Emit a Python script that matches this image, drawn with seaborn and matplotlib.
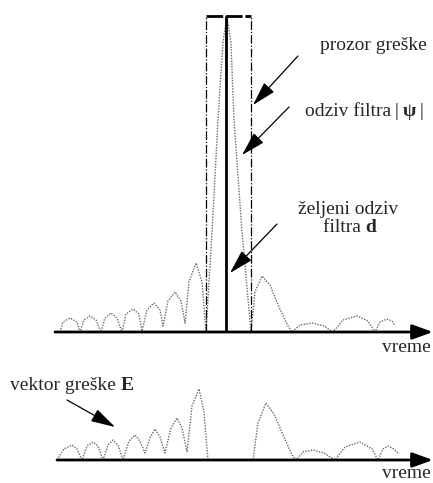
import matplotlib
matplotlib.use("Agg")
import matplotlib.pyplot as plt
import seaborn as sns
import numpy as np

sns.set_theme(style="white")
plt.rcParams['font.family'] = ['Liberation Serif', 'DejaVu Serif']

# ---------------- data ----------------
# filter response |psi| (upper panel): time, amplitude
psi_t = [60, 63, 70, 77, 80, 84, 90, 96, 101, 105, 111, 117, 122, 126, 133, 139, 142,
         147, 154, 160, 163, 168, 175, 181, 185, 189, 196, 202, 206,
         212, 218, 223, 227, 231, 234, 242, 251,
         255, 262, 270, 279, 288, 292, 300, 312, 324, 333, 343, 357, 368, 375,
         380, 387, 392, 395]
psi_a = [0, 10, 14, 10, 0, 12, 16, 12, 0, 14, 19, 14, 0, 18, 23, 18, 1,
         22, 29, 22, 6, 31, 40, 31, 9, 50, 69, 50, 0,
         100, 212, 290, 316, 288, 212, 100, 0,
         40, 56, 47, 25, 6, 0, 7, 9, 6, 0, 12, 16, 11, 0,
         10, 13, 11, 6]

# desired response d and error window
d_time = 226
d_amp = 316
window_start = 206
window_end = 251
window_top = 316

# error vector E (lower panel): time, amplitude
err_t = [57, 64, 72, 77, 82, 87, 93, 98, 103, 108, 113, 118, 123, 129, 135, 140, 145,
         150, 155, 160, 165, 171, 177, 182, 187, 192, 199, 204, 208,
         253, 258, 266, 274, 284, 292, 296, 303, 313, 324, 335, 345, 360, 372, 378,
         383, 388, 394, 399]
err_a = [0, 11, 15, 11, 0, 14, 18, 14, 0, 15, 20, 15, 0, 19, 25, 19, 7,
         22, 31, 23, 7, 32, 42, 32, 8, 54, 71, 48, 0,
         0, 37, 57, 46, 23, 5, 0, 8, 10, 7, 0, 13, 18, 11, 0,
         11, 14, 11, 6]

axis_label = "vreme"

# ---------------- figure ----------------
W, H = 433, 483
fig = plt.figure(figsize=(W / 100, H / 100), dpi=100)
fig.patch.set_facecolor("white")

# upper panel: pixel rows 0..340, baseline at row 332
ax1 = fig.add_axes([0, (H - 340) / H, 1, 340 / H])
ax1.set_xlim(0, W)
ax1.set_ylim(-8, 332)
ax1.axis("off")

# lower panel: pixel rows 360..483, baseline at row 460
ax2 = fig.add_axes([0, 0, 1, 123 / H])
ax2.set_xlim(0, W)
ax2.set_ylim(-23, 100)
ax2.axis("off")

curve_kw = dict(color="#6a6a6a", linewidth=1.0, linestyle=(0, (1, 1)),
                sort=False, estimator=None, legend=False)
sns.lineplot(x=psi_t, y=psi_a, ax=ax1, **curve_kw)
sns.lineplot(x=err_t, y=err_a, ax=ax2, **curve_kw)

# window rectangle
win_ls = (0, (7, 1.5, 1, 1.5))
ax1.plot([window_start, window_start], [0, window_top], color="black", lw=0.9, ls=win_ls)
ax1.plot([window_end, window_end], [0, window_top], color="black", lw=0.9, ls=win_ls)
ax1.plot([window_start, window_end], [window_top, window_top], color="black", lw=2.0,
         ls=(0, (6, 1)))
# desired response d
ax1.vlines(d_time, 0, d_amp, color="black", lw=2.0)

# time axes with arrows
axis_arrow = dict(arrowstyle="-|>,head_length=1.25,head_width=0.45", mutation_scale=10,
                  lw=2.0, color="black", shrinkA=0, shrinkB=0)
ax1.annotate("", xy=(433, 0), xytext=(55, 0), arrowprops=axis_arrow)
ax2.annotate("", xy=(433, 0), xytext=(57, 0), arrowprops=axis_arrow)

fs = 14
ax1.text(431, -15, axis_label, fontsize=fs, ha="right", va="center")
ax2.text(431, -14, axis_label, fontsize=fs, ha="right", va="center")

# labels with pointer arrows
ptr = dict(arrowstyle="-|>,head_length=1.5,head_width=0.42", mutation_scale=10,
           lw=0.9, color="black", shrinkA=0, shrinkB=0)

ax1.text(320, 287, "prozor greške", fontsize=fs, ha="left", va="center")
ax1.annotate("", xy=(253, 227), xytext=(298, 276), arrowprops=ptr)

t1 = ax1.text(305, 220, "odziv filtra", fontsize=fs, ha="left", va="center")
t2 = ax1.annotate("\u2009|\u2009", xy=(1, 0), xycoords=t1, fontsize=fs, ha="left", va="bottom")
t3 = ax1.annotate("\u03c8", xy=(1, 0), xycoords=t2, fontsize=fs, ha="left", va="bottom",
                  fontweight="bold")
ax1.annotate("\u2009|", xy=(1, 0), xycoords=t3, fontsize=fs, ha="left", va="bottom")
ax1.annotate("", xy=(242, 177), xytext=(289, 225), arrowprops=ptr)

ax1.text(298, 122, "željeni odziv", fontsize=fs, ha="left", va="center")
t4 = ax1.text(323, 104, "filtra ", fontsize=fs, ha="left", va="center")
ax1.annotate("d", xy=(1, 0), xycoords=t4, fontsize=fs, ha="left", va="bottom",
             fontweight="bold")
ax1.annotate("", xy=(230, 59), xytext=(277, 108), arrowprops=ptr)

t5 = ax2.text(10, 75, "vektor greške ", fontsize=fs, ha="left", va="center")
ax2.annotate("E", xy=(1, 0), xycoords=t5, fontsize=fs, ha="left", va="bottom",
             fontweight="bold")
ax2.annotate("", xy=(115, 33), xytext=(67, 60), arrowprops=ptr)

fig.savefig("out.png", dpi=100, facecolor="white")
